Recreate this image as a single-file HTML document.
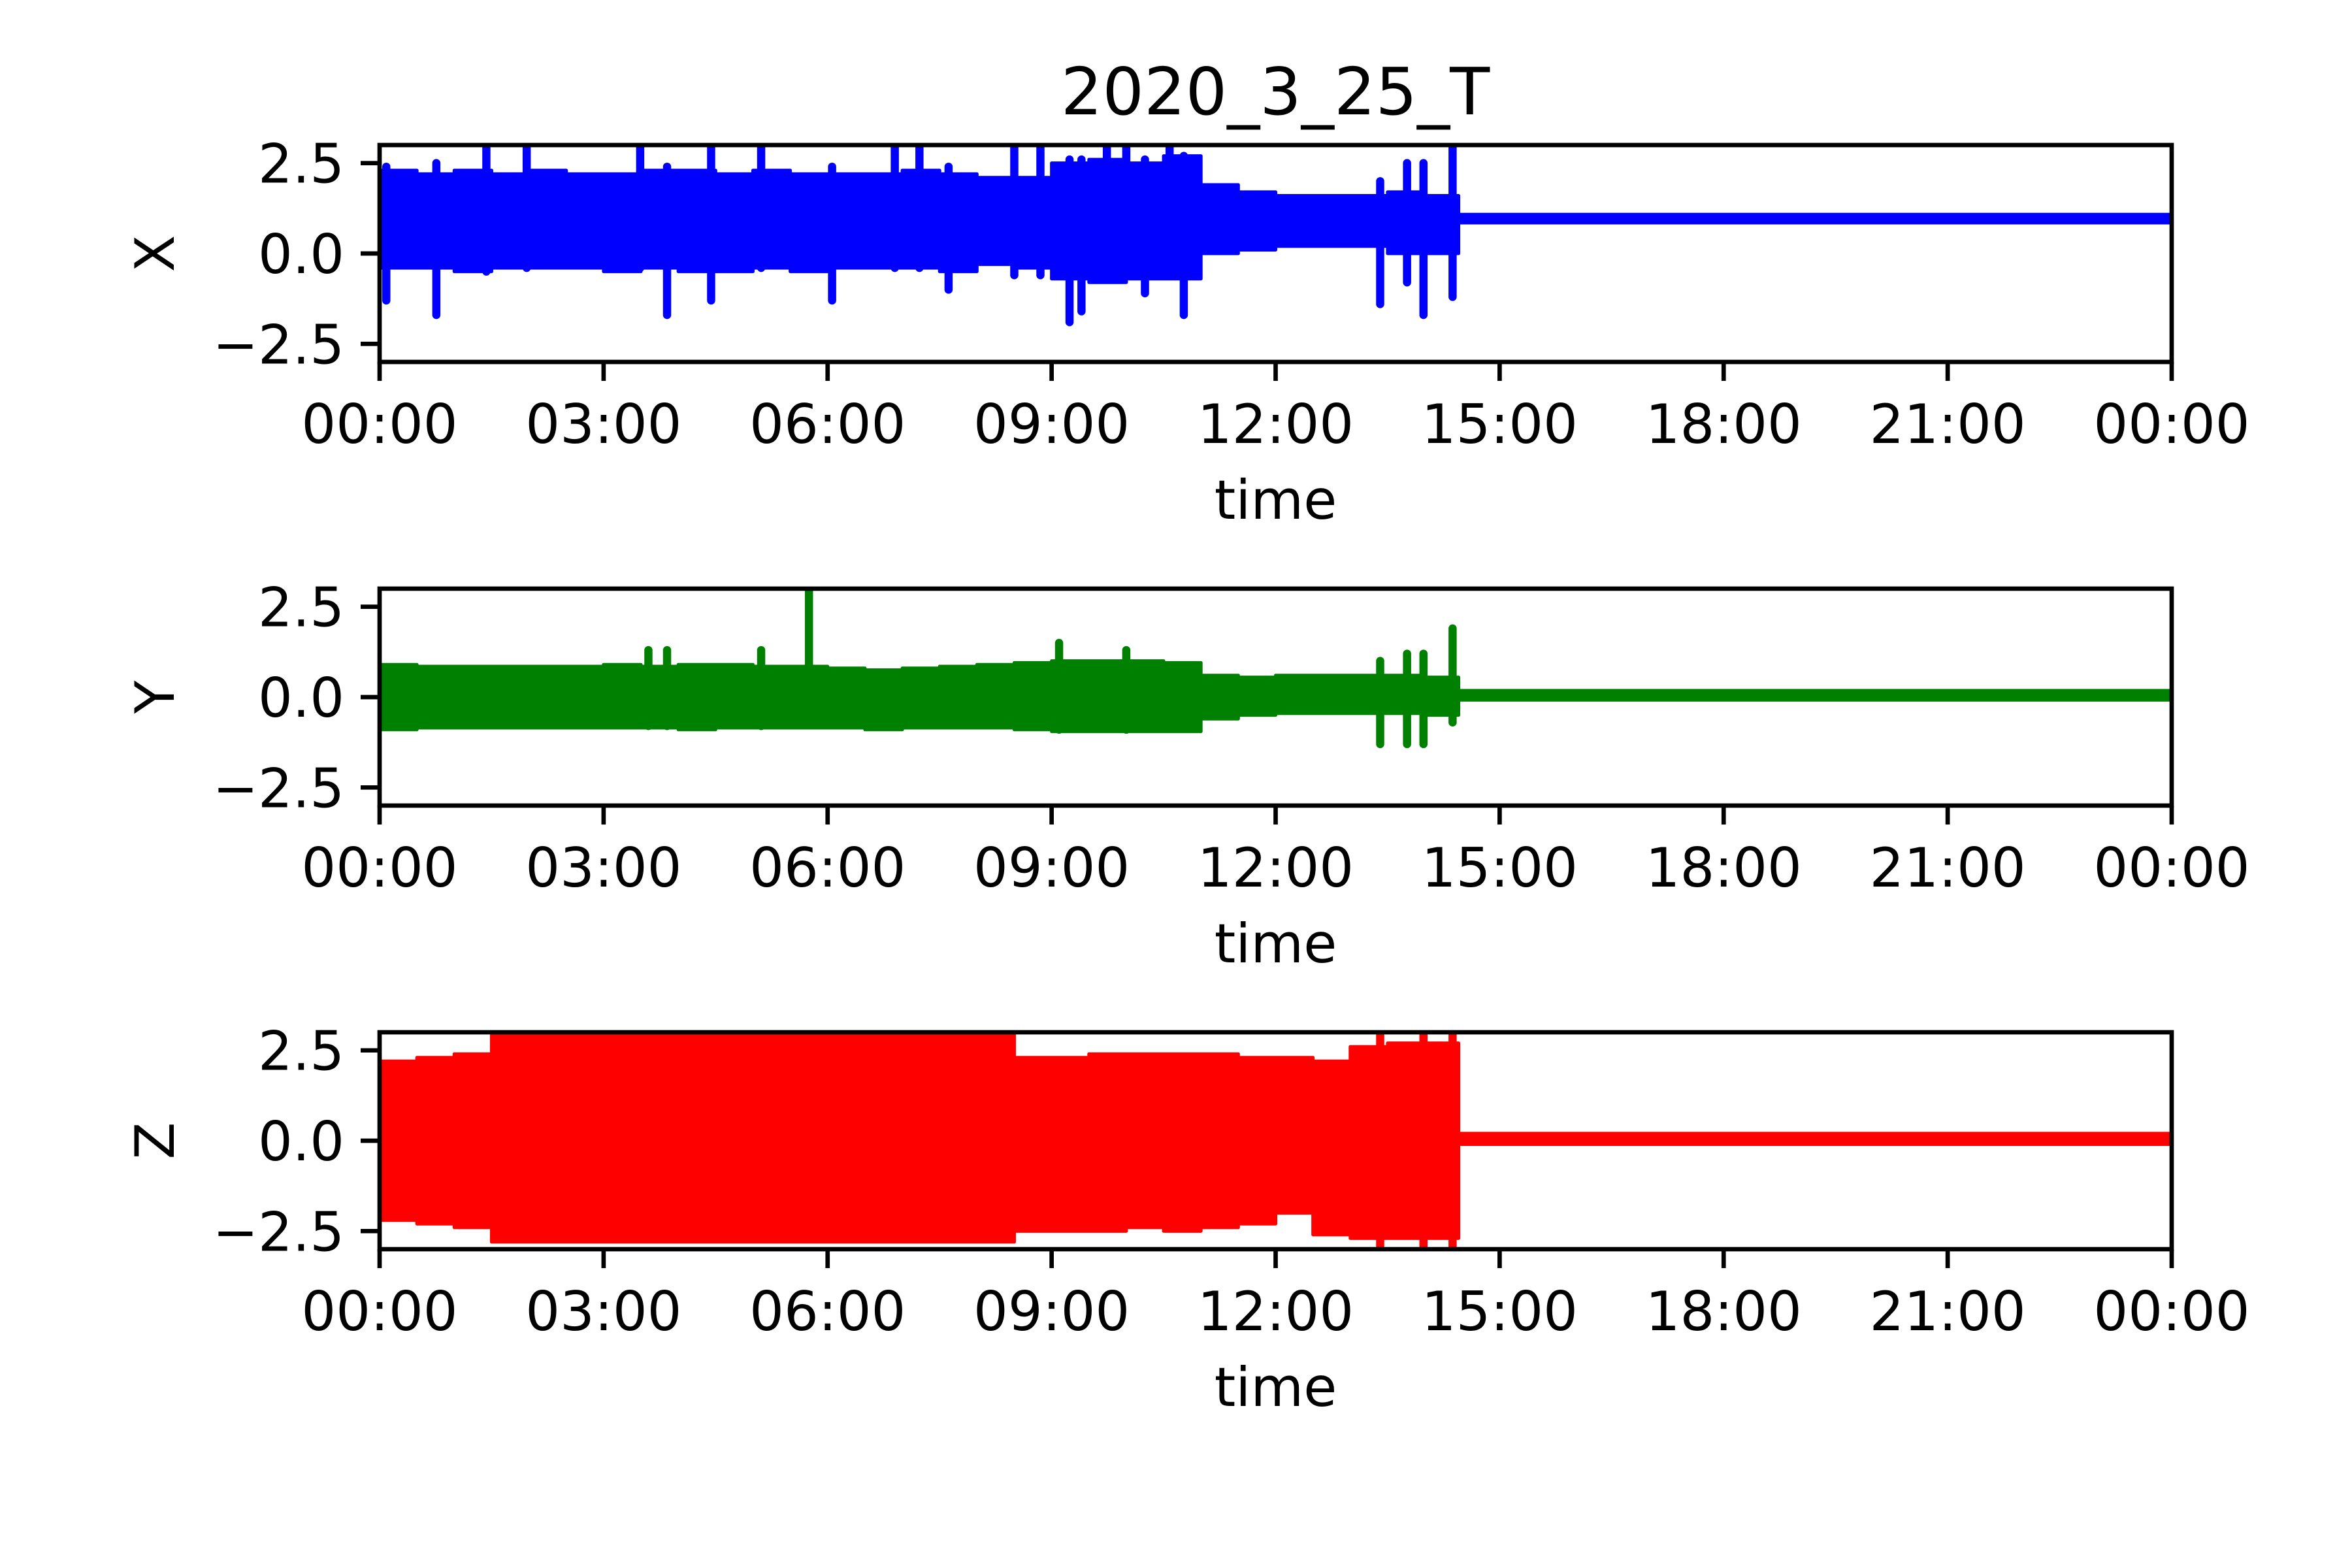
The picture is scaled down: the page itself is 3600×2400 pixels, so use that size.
<!DOCTYPE html>
<html><head><meta charset="utf-8"><style>
html,body{margin:0;padding:0;background:#fff}
svg{display:block}
text{font-family:"DejaVu Sans","Liberation Sans",sans-serif;fill:#000}
</style></head><body>
<svg id="fig" width="3600" height="2400" viewBox="0 0 3600 2400" xmlns="http://www.w3.org/2000/svg">
<rect width="3600" height="2400" fill="#fff"/>
<text x="1952" y="175" font-size="100" text-anchor="middle">2020_3_25_T</text>
</svg>
<script>
// bin start times (hours); last bin is the quiet period to 24h
const binStart = [0,0.5,1,1.5,2,2.5,3,3.5,4,4.5,5,5.5,6,6.5,7,7.5,8,8.5,9,9.5,10,10.5,11,11.5,12,12.5,13,13.5,14,14.45];
const xUpper = [2.3,2.2,2.3,2.2,2.3,2.2,2.2,2.3,2.3,2.2,2.3,2.2,2.2,2.2,2.3,2.2,2.1,2.1,2.5,2.6,2.5,2.7,1.9,1.7,1.6,1.6,1.6,1.7,1.6,1.08];
const xLower = [-0.4,-0.4,-0.5,-0.4,-0.4,-0.4,-0.5,-0.4,-0.5,-0.5,-0.4,-0.5,-0.4,-0.4,-0.4,-0.5,-0.3,-0.4,-0.7,-0.8,-0.7,-0.7,0.0,0.1,0.2,0.2,0.2,0.0,0.0,0.85];
const yUpper = [0.9,0.85,0.85,0.85,0.85,0.85,0.9,0.85,0.9,0.9,0.85,0.85,0.8,0.75,0.8,0.85,0.9,0.95,1.0,1.0,1.0,0.95,0.6,0.55,0.6,0.6,0.6,0.6,0.55,0.18];
const yLower = [-0.9,-0.85,-0.85,-0.85,-0.85,-0.85,-0.85,-0.85,-0.9,-0.85,-0.85,-0.85,-0.85,-0.9,-0.85,-0.85,-0.85,-0.9,-0.95,-0.95,-0.95,-0.95,-0.6,-0.5,-0.45,-0.45,-0.45,-0.45,-0.5,-0.08];
const zUpper = [2.2,2.3,2.4,3.0,3.0,3.0,3.0,3.0,3.0,3.0,3.0,3.0,3.0,3.0,3.0,3.0,3.0,2.3,2.3,2.4,2.4,2.4,2.4,2.3,2.3,2.2,2.6,2.7,2.7,0.2];
const zLower = [-2.2,-2.3,-2.4,-2.8,-2.8,-2.8,-2.8,-2.8,-2.8,-2.8,-2.8,-2.8,-2.8,-2.8,-2.8,-2.8,-2.8,-2.5,-2.5,-2.5,-2.4,-2.5,-2.4,-2.3,-2.0,-2.6,-2.7,-2.7,-2.7,-0.1];
// spikes: time (h), min, max
const xSpikeT = [0.09,0.76,1.43,1.97,3.49,3.85,4.44,5.11,6.06,6.9,7.23,7.62,8.5,8.85,9.24,9.4,9.74,10.0,10.25,10.58,10.77,13.4,13.76,13.98,14.37];
const xSpikeLo = [-1.3,-1.7,-0.5,-0.4,-0.4,-1.7,-1.3,-0.4,-1.3,-0.4,-0.4,-1.0,-0.6,-0.6,-1.9,-1.6,-0.6,-0.6,-1.1,-0.6,-1.7,-1.4,-0.8,-1.7,-1.2];
const xSpikeHi = [2.4,2.5,3.0,3.0,3.0,2.4,3.0,3.0,2.4,3.0,3.0,2.4,3.0,3.0,2.6,2.6,3.0,3.0,2.6,3.0,2.7,2.0,2.5,2.5,3.0];
const ySpikeT = [3.6,3.85,5.11,5.75,9.1,10.0,13.4,13.76,13.98,14.37];
const ySpikeLo = [-0.8,-0.8,-0.8,0.5,-0.9,-0.9,-1.3,-1.3,-1.3,-0.7];
const ySpikeHi = [1.3,1.3,1.3,3.0,1.5,1.3,1.0,1.2,1.2,1.9];
const zSpikeT = [13.4,13.98,14.37];
const zSpikeLo = [-3.0,-3.0,-3.0];
const zSpikeHi = [3.0,3.0,3.0];
const xTickLabels = ["00:00","03:00","06:00","09:00","12:00","15:00","18:00","21:00","00:00"];
const yTickValues = [2.5,0.0,-2.5];
const yTickLabels = ["2.5","0.0","\u22122.5"];
const panelNames = ["X","Y","Z"];

const NS="http://www.w3.org/2000/svg";
const svg=document.getElementById('fig');
const L=581,W=2743,H=332,tops=[222,901,1580];
const YMIN=-3,YMAX=3,TMAX=24;
function mk(tag,attrs,parent){const e=document.createElementNS(NS,tag);for(const k in attrs)e.setAttribute(k,attrs[k]);(parent||svg).appendChild(e);return e;}

const panels=[
 {name:'x',color:'#0000ff',up:xUpper,lo:xLower,sT:xSpikeT,sL:xSpikeLo,sH:xSpikeHi},
 {name:'y',color:'#008000',up:yUpper,lo:yLower,sT:ySpikeT,sL:ySpikeLo,sH:ySpikeHi},
 {name:'z',color:'#ff0000',up:zUpper,lo:zLower,sT:zSpikeT,sL:zSpikeLo,sH:zSpikeHi}
];
panels.forEach((p,i)=>{
 const top=tops[i];
 const xs=t=>L+t/TMAX*W;
 const ys=v=>top+(YMAX-v)/(YMAX-YMIN)*H;
 const g=mk('g',{});
 
 
 const cp=mk('clipPath',{id:'clip'+i},g);
 mk('rect',{x:L,y:top,width:W,height:H},cp);
 const dg=mk('g',{'clip-path':'url(#clip'+i+')'},g);
 let up=[],lo=[];
 for(let k=0;k<binStart.length;k++){
  const t0=binStart[k],t1=k+1<binStart.length?binStart[k+1]:TMAX;
  up.push(xs(t0)+','+ys(p.up[k]),xs(t1)+','+ys(p.up[k]));
  lo.push(xs(t0)+','+ys(p.lo[k]),xs(t1)+','+ys(p.lo[k]));
 }
 const pts=up.concat(lo.reverse()).join(' ');
 const poly=mk('polygon',{points:pts,fill:p.color,stroke:p.color,'stroke-width':5,'stroke-linejoin':'round'},dg);
 
 
 p.sT.forEach((t,k)=>{
  const ln=mk('line',{x1:xs(t),x2:xs(t),y1:ys(p.sL[k]),y2:ys(p.sH[k]),stroke:p.color,'stroke-width':12.5,'stroke-linecap':'round'},dg);
  
  
 });
 const fr=mk('rect',{x:L,y:top,width:W,height:H,fill:'none',stroke:'#000','stroke-width':6.7},g);
 
 
 xTickLabels.forEach((lab,k)=>{
  const x=xs(k*3);
  mk('line',{x1:x,x2:x,y1:top+H,y2:top+H+29,stroke:'#000','stroke-width':6.7},g);
  const tx=mk('text',{x:x,y:top+H+124,'font-size':83,'text-anchor':'middle'},g);
  tx.textContent=lab;
  
  
 });
 yTickValues.forEach((v,k)=>{
  const y=ys(v);
  mk('line',{x1:L-29,x2:L,y1:y,y2:y,stroke:'#000','stroke-width':6.7},g);
  const tx=mk('text',{x:L-54,y:y+30,'font-size':83,'text-anchor':'end'},g);
  tx.textContent=yTickLabels[k];
  
  
 });
 const xl=mk('text',{x:L+W/2,y:top+H+240,'font-size':83,'text-anchor':'middle'},g);
 xl.textContent='time';
 
 
 const yl=mk('text',{x:0,y:0,'font-size':83,'text-anchor':'middle',transform:'translate(266,'+(top+H/2)+') rotate(-90)'},g);
 yl.textContent=panelNames[i];
 
 
});
</script>
</body></html>
